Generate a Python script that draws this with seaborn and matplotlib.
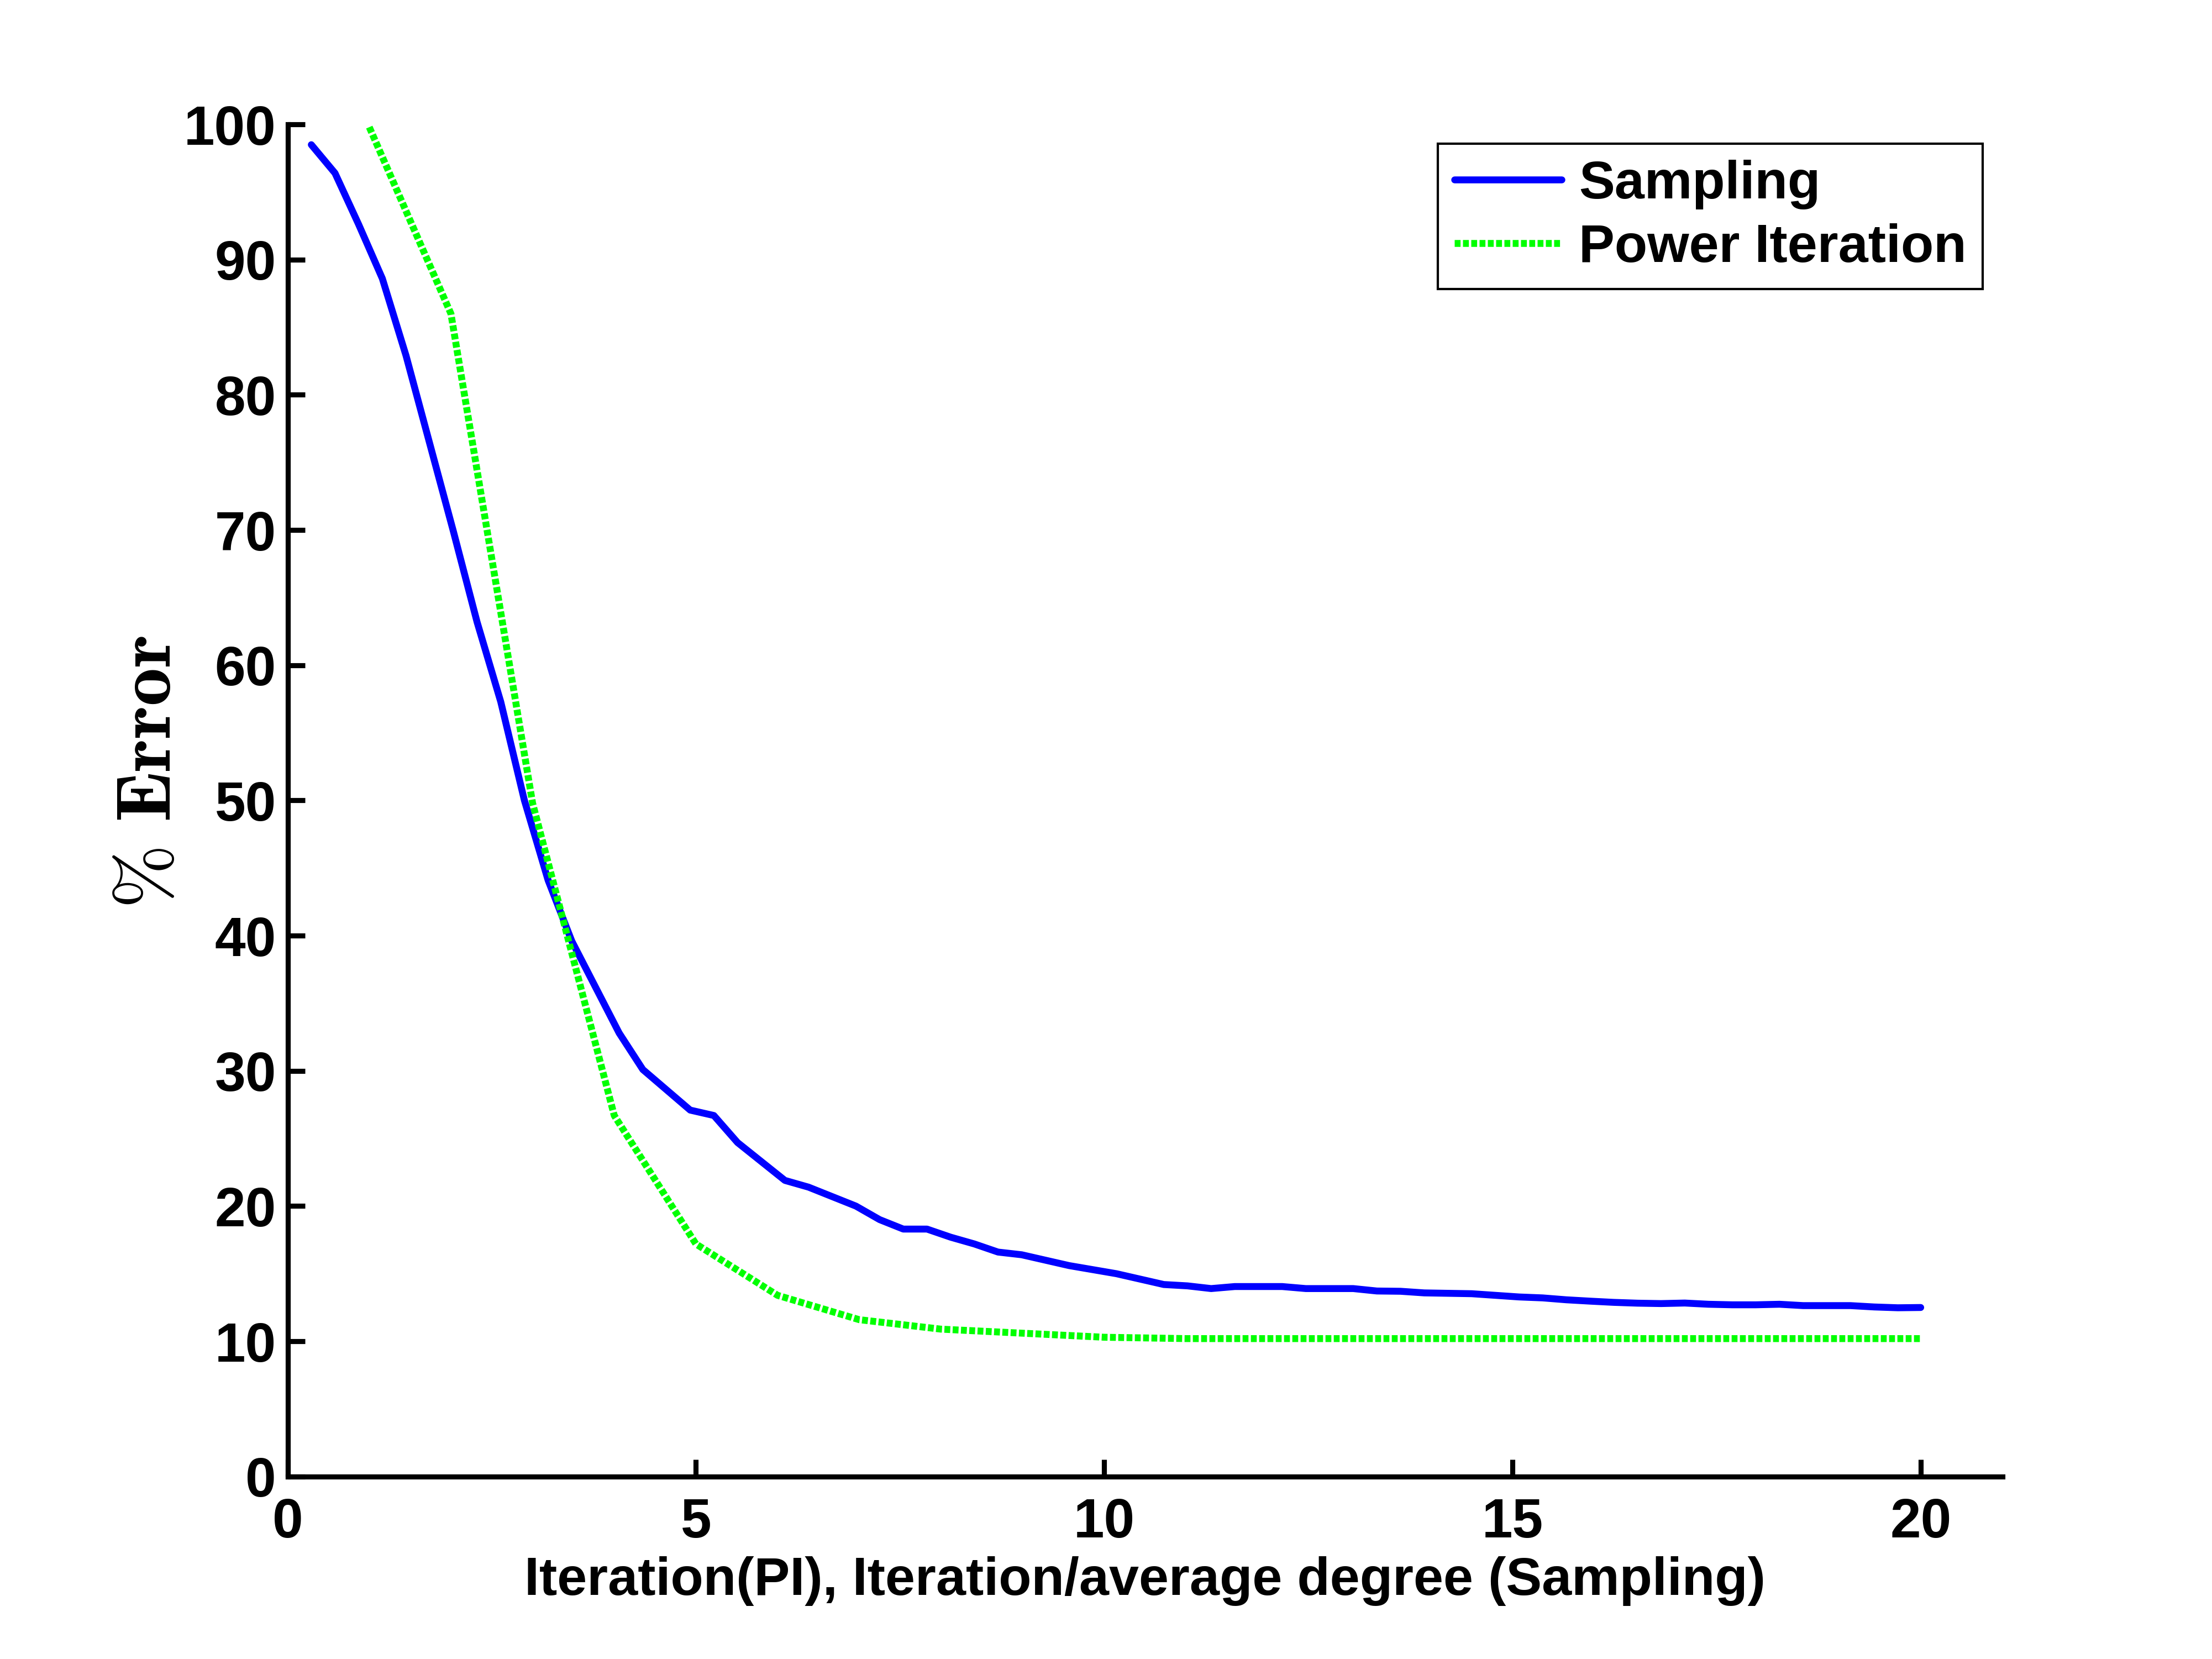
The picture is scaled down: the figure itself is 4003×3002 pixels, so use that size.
import matplotlib
matplotlib.use("Agg")
import matplotlib.pyplot as plt
import seaborn as sns

# values
sampling_x = [0.29, 0.58, 0.87, 1.16, 1.45, 1.74, 2.03, 2.32, 2.61, 2.90,
              3.19, 3.48, 3.77, 4.06, 4.35, 4.64, 4.93, 5.22, 5.51, 5.80,
              6.09, 6.38, 6.67, 6.96, 7.25, 7.54, 7.83, 8.12, 8.41, 8.70,
              8.99, 9.28, 9.57, 9.86, 10.15, 10.44, 10.73, 11.02, 11.31, 11.60,
              11.89, 12.18, 12.47, 12.76, 13.05, 13.34, 13.63, 13.92, 14.21, 14.50,
              14.79, 15.08, 15.37, 15.66, 15.95, 16.24, 16.53, 16.82, 17.11, 17.40,
              17.69, 17.98, 18.27, 18.56, 18.85, 19.14, 19.43, 19.72, 20.00]
sampling_err = [98.5, 96.4, 92.6, 88.6, 82.9, 76.4, 69.9, 63.2, 57.3, 50.0,
                44.1, 39.6, 36.2, 32.8, 30.1, 28.6, 27.1, 26.7, 24.7, 23.3,
                21.9, 21.4, 20.7, 20.0, 19.0, 18.3, 18.3, 17.7, 17.2, 16.6,
                16.4, 16.0, 15.6, 15.3, 15.0, 14.6, 14.2, 14.1, 13.9, 14.05,
                14.05, 14.05, 13.9, 13.9, 13.9, 13.72, 13.70, 13.58, 13.55, 13.52,
                13.40, 13.28, 13.21, 13.07, 12.97, 12.88, 12.82, 12.79, 12.83, 12.74,
                12.70, 12.70, 12.74, 12.64, 12.64, 12.64, 12.54, 12.48, 12.50]

power_x = [1, 2, 3, 4, 5, 6, 7, 8, 9, 10, 11, 12, 13, 14, 15, 16, 17, 18, 19, 20]
power_err = [99.8, 86.0, 49.8, 26.7, 17.2, 13.4, 11.6, 10.9, 10.6, 10.3,
             10.2, 10.2, 10.2, 10.2, 10.2, 10.2, 10.2, 10.2, 10.2, 10.2]

x_ticks = [0, 5, 10, 15, 20]
y_ticks = [0, 10, 20, 30, 40, 50, 60, 70, 80, 90, 100]

sns.set_style("ticks")
plt.rcParams['font.family'] = ['Liberation Sans', 'DejaVu Sans']
plt.rcParams['font.weight'] = 'bold'
plt.rcParams['mathtext.fontset'] = 'cm'
plt.rcParams['xtick.direction'] = 'in'
plt.rcParams['ytick.direction'] = 'in'
plt.rcParams['text.color'] = 'black'
plt.rcParams['axes.labelcolor'] = 'black'
plt.rcParams['xtick.color'] = 'black'
plt.rcParams['ytick.color'] = 'black'

fig = plt.figure(figsize=(4004 / 300, 3002 / 300), dpi=300)
# MATLAB default axes position
ax = fig.add_axes([0.13, 0.11, 0.775, 0.815])

sns.lineplot(x=sampling_x, y=sampling_err, ax=ax, color=(0, 0, 1), lw=3.0,
             label='Sampling', sort=False)
sns.lineplot(x=power_x, y=power_err, ax=ax, color=(0, 1, 0), lw=3.0,
             linestyle=(0, (0.85, 0.35)), dash_capstyle='butt',
             label='Power Iteration', sort=False)

ax.set_xlim(0, 21)
ax.set_ylim(0, 100)
ax.set_xticks(x_ticks)
ax.set_yticks(y_ticks)
ax.tick_params(axis='both', labelsize=24, width=2.2, length=7.5, colors='black')
ax.tick_params(axis='x', pad=9)
ax.tick_params(axis='y', pad=5)
for lab in ax.get_xticklabels() + ax.get_yticklabels():
    lab.set_fontweight('bold')

for side in ['top', 'right']:
    ax.spines[side].set_visible(False)
for side in ['left', 'bottom']:
    ax.spines[side].set_linewidth(2.2)
    ax.spines[side].set_color('black')

ax.set_xlabel('Iteration(PI), Iteration/average degree (Sampling)',
              fontsize=23.3, fontweight='bold', labelpad=3)
ax.set_ylabel(r'$\%\ \mathbf{Error}$', fontsize=33.4)
ax.yaxis.set_label_coords(-0.059, 0.521)

leg = ax.legend(loc='upper right', bbox_to_anchor=(0.896, 0.9133),
                bbox_transform=fig.transFigure, fontsize=23.3, frameon=True,
                fancybox=False, framealpha=1, edgecolor='black',
                handlelength=2.0, handletextpad=0.32, borderpad=0.3,
                labelspacing=0.25, borderaxespad=0)
leg.get_frame().set_linewidth(1.0)
for t in leg.get_texts():
    t.set_fontweight('bold')
    t.set_color('black')

fig.savefig('out.png', dpi=300, facecolor='white')
